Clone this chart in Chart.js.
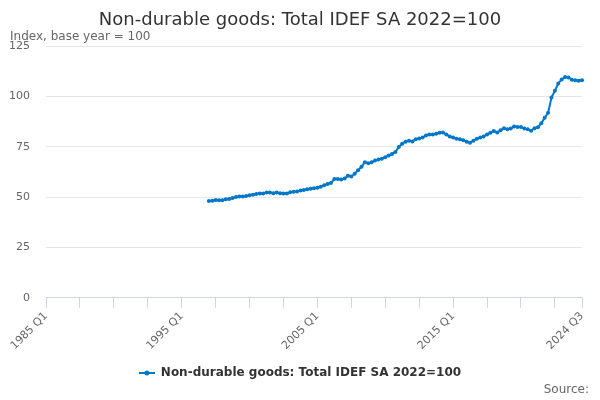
<!DOCTYPE html>
<html>
<head>
<meta charset="utf-8">
<script src="https://cdn.jsdelivr.net/npm/chart.js@4/dist/chart.umd.min.js"></script>
<style>
  html, body { margin: 0; padding: 0; background: #fff; }
  canvas { display: block; }
</style>
</head>
<body>
<canvas id="c" width="600" height="400"></canvas>
<script>
// ---- Data ----
const firstYear = 1985;
const lastYear = 2024;
const lastQuarterOfLastYear = 3;
const quarters = [];
for (let y = firstYear; y <= lastYear; y++) {
  for (let q = 1; q <= 4; q++) {
    if (y === lastYear && q > lastQuarterOfLastYear) break;
    quarters.push(y + ' Q' + q);
  }
}
const seriesStart = '1997 Q1';
const seriesName = 'Non-durable goods: Total IDEF SA 2022=100';
const seriesValues = [
  48.0, 48.2, 48.5, 48.4, 48.4, 48.9, 49.0, 49.5, 50.0, 50.3,
  50.3, 50.5, 50.9, 51.1, 51.5, 51.8, 51.7, 52.2, 52.3, 51.9,
  52.3, 51.9, 51.8, 51.8, 52.4, 52.6, 52.8, 53.2, 53.5, 53.8,
  54.1, 54.3, 54.6, 55.1, 55.9, 56.5, 57.0, 58.9, 59.0, 58.7,
  59.2, 60.6, 60.2, 61.6, 63.3, 65.0, 67.3, 66.8, 67.3, 68.1,
  68.6, 69.0, 69.8, 70.6, 71.4, 72.4, 74.9, 76.5, 77.5, 77.9,
  77.6, 78.7, 79.1, 79.5, 80.5, 81.0, 81.1, 81.4, 81.9, 82.1,
  81.1, 80.1, 79.5, 78.9, 78.7, 78.2, 77.4, 77.0, 78.0, 78.9,
  79.5, 80.1, 81.1, 81.9, 82.8, 82.0, 83.1, 84.1, 83.7, 84.0,
  85.0, 84.8, 84.8, 84.0, 83.7, 82.9, 84.2, 84.6, 86.6, 89.4,
  91.8, 99.4, 102.8, 106.4, 108.4, 109.6, 109.4, 108.3, 108.0, 107.7,
  108.0
];
const yTicks = [0, 25, 50, 75, 100, 125];
const labelledQuarters = ['1985 Q1', '1995 Q1', '2005 Q1', '2015 Q1', '2024 Q3'];
const tickEvery = 10;

const titleText = 'Non-durable goods: Total IDEF SA 2022=100';
const subtitleText = 'Index, base year = 100';
const sourceText = 'Source:';

// ---- Styling ----
const FONT = "'DejaVu Sans', Verdana, sans-serif";
const BLUE = '#0077c8';
const startIdx = quarters.indexOf(seriesStart);
const lastIdx = quarters.length - 1;

// legend marker: line with a dot
const marker = document.createElement('canvas');
marker.width = 16; marker.height = 8;
(function () {
  const m = marker.getContext('2d');
  m.strokeStyle = BLUE; m.lineWidth = 2;
  m.beginPath(); m.moveTo(0, 4); m.lineTo(16, 4); m.stroke();
  m.fillStyle = BLUE;
  m.beginPath(); m.arc(8, 4, 2.5, 0, Math.PI * 2); m.fill();
})();

const sourcePlugin = {
  id: 'sourceText',
  afterDraw(chart) {
    const ctx = chart.ctx;
    ctx.save();
    ctx.font = '12px ' + FONT;
    ctx.fillStyle = '#666666';
    ctx.textAlign = 'right';
    ctx.textBaseline = 'middle';
    ctx.fillText(sourceText, 589, 390);
    ctx.restore();
  }
};

new Chart(document.getElementById('c'), {
  type: 'line',
  data: {
    labels: quarters,
    datasets: [{
      label: seriesName,
      data: seriesValues.map((v, i) => ({ x: quarters[startIdx + i], y: v })),
      borderColor: BLUE,
      backgroundColor: BLUE,
      borderWidth: 2,
      pointRadius: 2,
      pointBorderWidth: 0,
      pointBackgroundColor: BLUE,
      tension: 0,
      yAxisID: 'y'
    }]
  },
  options: {
    responsive: false,
    animation: false,
    devicePixelRatio: 1,
    layout: { padding: { left: 10, right: 10, top: 0, bottom: 11 } },
    plugins: {
      title: {
        display: true,
        text: titleText,
        color: '#333333',
        font: { family: FONT, size: 18, weight: 'normal' },
        padding: { top: 10, bottom: -2 }
      },
      subtitle: {
        display: true,
        text: subtitleText,
        align: 'start',
        color: '#666666',
        font: { family: FONT, size: 12, weight: 'normal' },
        padding: { top: 0, bottom: 2 }
      },
      legend: {
        position: 'bottom',
        labels: {
          usePointStyle: true,
          pointStyle: marker,
          pointStyleWidth: 16,
          color: '#333333',
          font: { family: FONT, size: 12, weight: 'bold' },
          padding: 10
        }
      },
      tooltip: { enabled: false }
    },
    scales: {
      x: {
        type: 'category',
        labels: quarters,
        offset: false,
        ticks: {
          autoSkip: false,
          maxRotation: 45,
          minRotation: 45,
          color: '#666666',
          font: { family: FONT, size: 11 },
          padding: 2,
          callback: (val, idx) => labelledQuarters.includes(quarters[idx]) ? quarters[idx] : ''
        },
        grid: {
          drawOnChartArea: false,
          drawTicks: true,
          tickLength: 10,
          tickWidth: 1,
          tickColor: (ctx) => (ctx.index % tickEvery === 0 || ctx.index === lastIdx) ? '#ccd6eb' : 'rgba(0,0,0,0)'
        },
        border: { display: true, color: '#ccd6eb', width: 1 },
        afterFit: (s) => { s.height = 59.3; }
      },
      y: {
        position: 'left',
        min: yTicks[0],
        max: yTicks[yTicks.length - 1],
        afterBuildTicks: (s) => { s.ticks = yTicks.map(v => ({ value: v })); },
        ticks: {
          color: '#666666',
          font: { family: FONT, size: 11 },
          padding: 16
        },
        grid: { color: '#e6e6e6', drawTicks: false },
        border: { display: false },
        afterFit: (s) => { s.width = 36; }
      },
      y2: {
        position: 'right',
        display: true,
        ticks: { display: false },
        grid: { display: false, drawTicks: false },
        border: { display: false },
        afterFit: (s) => { s.width = 8; }
      }
    }
  },
  plugins: [sourcePlugin]
});
</script>
</body>
</html>
